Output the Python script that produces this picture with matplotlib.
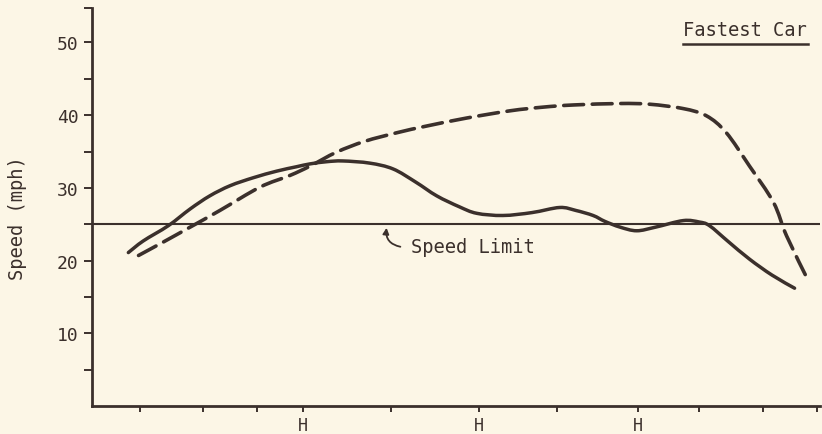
import matplotlib
matplotlib.use("Agg")
import matplotlib.pyplot as plt
from matplotlib.lines import Line2D
from matplotlib.path import Path
from matplotlib.patches import PathPatch
import numpy as np

# ---------------- data ----------------
# x: distance along the route (arbitrary units, axis spans 0..100)
typical_x = [5.0, 7.05, 10.5, 13.5, 16.2, 19.0, 22.2, 25.4, 28.1, 30.0, 32.3, 34.5,
             38.2, 41.4, 44.5, 47.4, 50.5, 52.9, 56.5, 60.5, 64.3, 66.5, 68.9,
             70.5, 72.6, 74.9, 77.5, 81.3, 83.5, 84.9, 87.5, 90.4, 93.5, 96.6]
typical_speed = [21.1, 22.7, 24.8, 27.1, 28.9, 30.3, 31.4, 32.3, 32.9, 33.3, 33.6, 33.7,
                 33.4, 32.6, 30.8, 28.9, 27.4, 26.5, 26.2, 26.6, 27.3, 26.9, 26.2,
                 25.4, 24.6, 24.1, 24.6, 25.5, 25.3, 24.8, 22.6, 20.2, 18.0, 16.2]

fastest_x = [6.4, 9.9, 13.5, 17.6, 23.1, 27.2, 30.0, 33.6, 37.5, 42.0, 46.0, 51.5,
             57.5, 62.0, 66.2, 72.6, 76.7, 81.3, 84.5, 87.2, 90.4, 93.7, 95.5, 98.5]
fastest_speed = [20.7, 22.6, 24.6, 26.9, 30.1, 31.7, 33.0, 34.9, 36.4, 37.6, 38.5, 39.6,
                 40.6, 41.1, 41.4, 41.6, 41.5, 40.9, 39.9, 37.6, 33.0, 28.0, 23.4, 17.2]

speed_limit = 25
x_ticks = [6.6, 15.3, 22.7, 29.0, 41.1, 53.2, 63.9, 75.1, 83.4, 92.2, 99.7]
x_tick_labels = ["", "", "", "H", "", "H", "", "H", "", "", ""]
y_major = [10, 20, 30, 40, 50]
y_minor = [5, 15, 25, 35, 45]
y_labels = ["10", "20", "30", "40", "50"]

# ---------------- style ----------------
BG = "#fcf6e6"
INK = "#3b302c"
FONT = "DejaVu Sans Mono"
plt.rcParams["font.family"] = [FONT, "DejaVu Sans"]


def smooth_path(xs, ys):
    """Bezier path (Catmull-Rom control points) passing through every data point."""
    p = np.column_stack([xs, ys]).astype(float)
    verts = [p[0]]
    codes = [Path.MOVETO]
    n = len(p)
    for i in range(n - 1):
        p0 = p[i - 1] if i > 0 else p[i]
        p1, p2 = p[i], p[i + 1]
        p3 = p[i + 2] if i + 2 < n else p[i + 1]
        c1 = p1 + (p2 - p0) / 6.0
        c2 = p2 - (p3 - p1) / 6.0
        verts += [c1, c2, p2]
        codes += [Path.CURVE4] * 3
    return Path(verts, codes)


fig = plt.figure(figsize=(8.22, 4.35), dpi=100, facecolor=BG)
ax = fig.add_axes([0.1119, 0.0644, 0.8857, 0.9143], facecolor=BG)

XMAX, YMAX = 100.1, 54.7
ax.set_xlim(0, XMAX)
ax.set_ylim(0, YMAX)

ax.axhline(speed_limit, color=INK, lw=1.5, zorder=2)
ax.add_patch(PathPatch(smooth_path(typical_x, typical_speed), fill=False,
                       edgecolor=INK, lw=2.5, capstyle="round", joinstyle="round",
                       zorder=3))
ax.add_patch(PathPatch(smooth_path(fastest_x, fastest_speed), fill=False,
                       edgecolor=INK, lw=2.6, linestyle=(0, (5.5, 2.4)),
                       capstyle="round", zorder=3))

for s in ["top", "right"]:
    ax.spines[s].set_visible(False)
for s in ["left", "bottom"]:
    ax.spines[s].set_color(INK)
    ax.spines[s].set_linewidth(2.0)

ax.set_yticks(y_major)
ax.set_yticklabels(y_labels)
ax.set_yticks(y_minor + [YMAX], minor=True)
ax.set_xticks(x_ticks)
ax.set_xticklabels(x_tick_labels)

ax.tick_params(axis="y", which="both", direction="out", length=5.5, width=1.4,
               color=INK, labelcolor=INK, labelsize=13, pad=4)
ax.tick_params(axis="x", which="both", direction="out", length=4.5, width=1.4,
               color=INK, labelcolor=INK, labelsize=12, pad=3)

ax.set_ylabel("Speed (mph)", color=INK, fontsize=13.5)
ax.yaxis.set_label_coords(-0.089, 0.474)

# Speed limit label with curved arrow
ax.text(43.9, 21.9, "Speed Limit", color=INK, fontsize=13.5, va="center", ha="left")
ax.annotate("", xy=(40.5, 24.5), xytext=(42.4, 21.9),
            arrowprops=dict(arrowstyle="-|>,head_length=0.35,head_width=0.18",
                            color=INK, lw=1.3, shrinkA=0, shrinkB=0,
                            connectionstyle="arc3,rad=-0.45"))

# Fastest car label with underline
t = ax.text(81.2, 51.8, "Fastest Car", color=INK, fontsize=13.5, va="center", ha="left")
fig.canvas.draw()
bb = t.get_window_extent().transformed(fig.transFigure.inverted())
fig.add_artist(Line2D([bb.x0, bb.x1 + 0.002], [bb.y0 - 0.012, bb.y0 - 0.012],
                      transform=fig.transFigure, color=INK, lw=1.8))

fig.savefig("out.png", dpi=100, facecolor=BG)
